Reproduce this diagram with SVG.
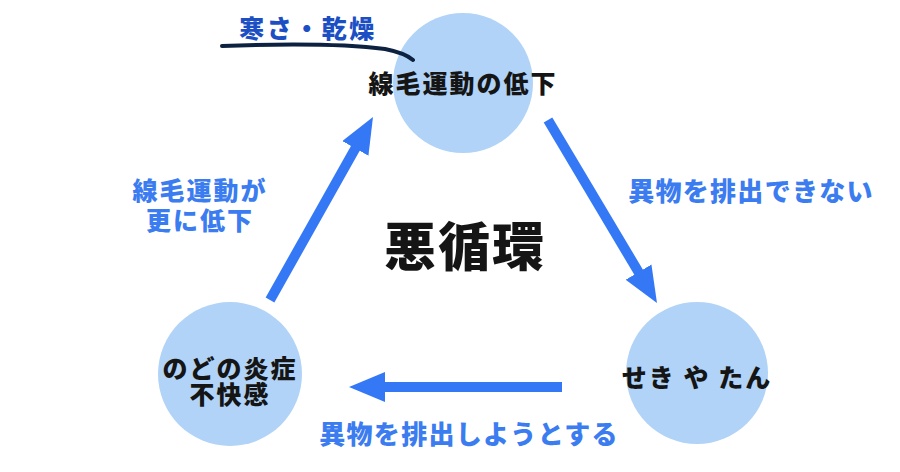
<svg xmlns="http://www.w3.org/2000/svg" width="900" height="472" viewBox="0 0 900 472">
<style>
.node{fill:#b0d3f7}
.t{font-family:"Noto Sans CJK JP","Noto Sans",sans-serif;font-weight:900;text-anchor:middle}
.nt{fill:#151515;font-size:25px;letter-spacing:2px}
.lb{fill:#3b7cf0;font-size:26px;letter-spacing:1.3px}
.lb2{fill:#3b7cf0;font-size:25px;letter-spacing:2px}
.arr{stroke:#3478f6;stroke-width:10;fill:none;marker-end:url(#ah)}
</style>
<defs>
<marker id="ah" markerUnits="userSpaceOnUse" markerWidth="36" markerHeight="30" refX="4" refY="15" orient="auto">
<path d="M0,0 L36,15 L0,30 z" fill="#3478f6"/>
</marker>
</defs>
<rect width="900" height="472" fill="#ffffff"/>
<g id="connectors">
<line class="arr" x1="548" y1="120" x2="640.6" y2="275.5"/>
<line class="arr" x1="562" y1="387" x2="381" y2="387"/>
<line class="arr" x1="270" y1="300" x2="357.3" y2="144.9"/>
</g>
<g id="node-top">
<circle class="node" cx="463" cy="83" r="70"/>
<text class="t nt" x="463" y="93">線毛運動の低下</text>
</g>
<g id="node-right">
<circle class="node" cx="697" cy="373" r="71"/>
<text class="t nt" x="697" y="387" letter-spacing="1">せき や たん</text>
</g>
<g id="node-left">
<circle class="node" cx="230" cy="374" r="72"/>
<text class="t nt" font-size="24" letter-spacing="3"><tspan x="230" y="378">のどの炎症</tspan><tspan x="230" y="404">不快感</tspan></text>
</g>
<g id="cause">
<path d="M222,46 Q330,42 385,49 Q405,53 413,60" stroke="#0d2240" stroke-width="4" fill="none" stroke-linecap="round"/>
<text class="t" x="308" y="38" fill="#1c4fc4" font-size="25" letter-spacing="2.5">寒さ・乾燥</text>
</g>
<g id="labels">
<text class="t lb" x="751" y="201">異物を排出できない</text>
<text class="t lb2"><tspan x="200" y="200">線毛運動が</tspan><tspan x="200" y="230">更に低下</tspan></text>
<text class="t lb" x="469" y="444">異物を排出しようとする</text>
<text class="t" x="465" y="266" fill="#151515" font-size="52" letter-spacing="2">悪循環</text>
</g>
</svg>
